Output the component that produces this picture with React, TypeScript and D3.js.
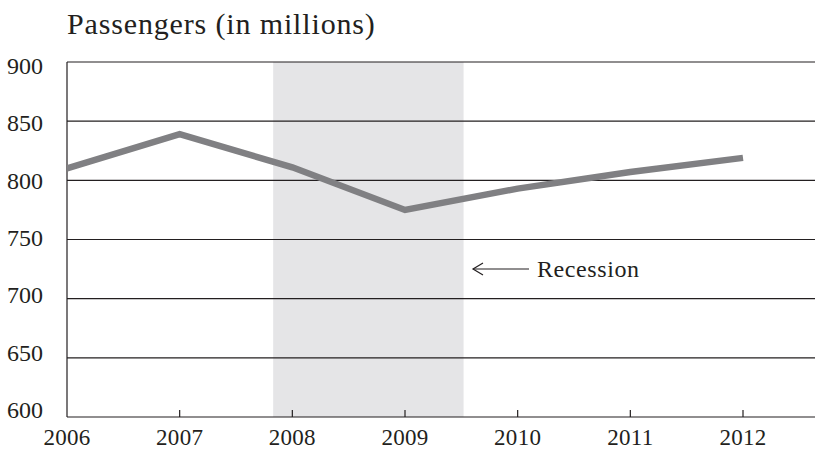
import React from "react";
import * as d3 from "d3";

const years = [2006, 2007, 2008, 2009, 2010, 2011, 2012];
const passengers = [810, 839, 811, 775, 793, 807, 819];
const yTicks = [600, 650, 700, 750, 800, 850, 900];
const recession = [2007.83, 2009.52];
const title = "Passengers (in millions)";
const recessionLabel = "Recession";

export default function App() {
  const W = 815, H = 450;
  const left = 67, right = 815, top = 62, bottom = 417;
  const x = d3.scaleLinear().domain([2006, 2012]).range([left, 743]);
  const y = d3.scaleLinear().domain([600, 900]).range([bottom, top]);
  const yLab = d3.scaleLinear().domain([600, 900]).range([418, 74]);
  const line = d3.line<number>().x((_, i) => x(years[i])).y((d) => y(d));
  const font = "'Liberation Serif', 'DejaVu Serif', serif";
  const ink = "#231f20";
  return (
    <svg width={W} height={H} style={{ position: "absolute", left: 0, top: 0 }} fontFamily={font}>
      <defs>
        <clipPath id="plot">
          <rect x={left} y={top - 10} width={right - left} height={bottom - top + 10} />
        </clipPath>
      </defs>
      <rect x={x(recession[0])} y={top} width={x(recession[1]) - x(recession[0])} height={bottom - top} fill="#e5e5e7" />
      {yTicks.map((t) => (
        <line key={t} x1={left} x2={right} y1={y(t)} y2={y(t)} stroke={ink} strokeWidth={1.2} />
      ))}
      <line x1={left} x2={left} y1={top} y2={bottom} stroke={ink} strokeWidth={1.2} />
      {years.slice(1).map((yr) => (
        <line key={yr} x1={x(yr)} x2={x(yr)} y1={bottom} y2={bottom - 7} stroke={ink} strokeWidth={1.2} />
      ))}
      <path d={line(passengers) || ""} fill="none" stroke="#808083" strokeWidth={6.5} strokeLinejoin="miter" clipPath="url(#plot)" />
      {yTicks.map((t) => (
        <text key={t} x={43} y={yLab(t)} textAnchor="end" fontSize={24} fill={ink}>{t}</text>
      ))}
      {years.map((yr) => (
        <text key={yr} x={x(yr)} y={445} textAnchor="middle" fontSize={23} letterSpacing={0.3} fill={ink}>{yr}</text>
      ))}
      <text x={67} y={34} fontSize={30} letterSpacing={0.85} fill={ink}>{title}</text>
      <line x1={473} x2={529} y1={269} y2={269} stroke={ink} strokeWidth={1.2} />
      <path d="M483,263 L473,269 L483,275" fill="none" stroke={ink} strokeWidth={1.2} />
      <text x={537} y={277} fontSize={24} letterSpacing={0.6} fill={ink}>{recessionLabel}</text>
    </svg>
  );
}
